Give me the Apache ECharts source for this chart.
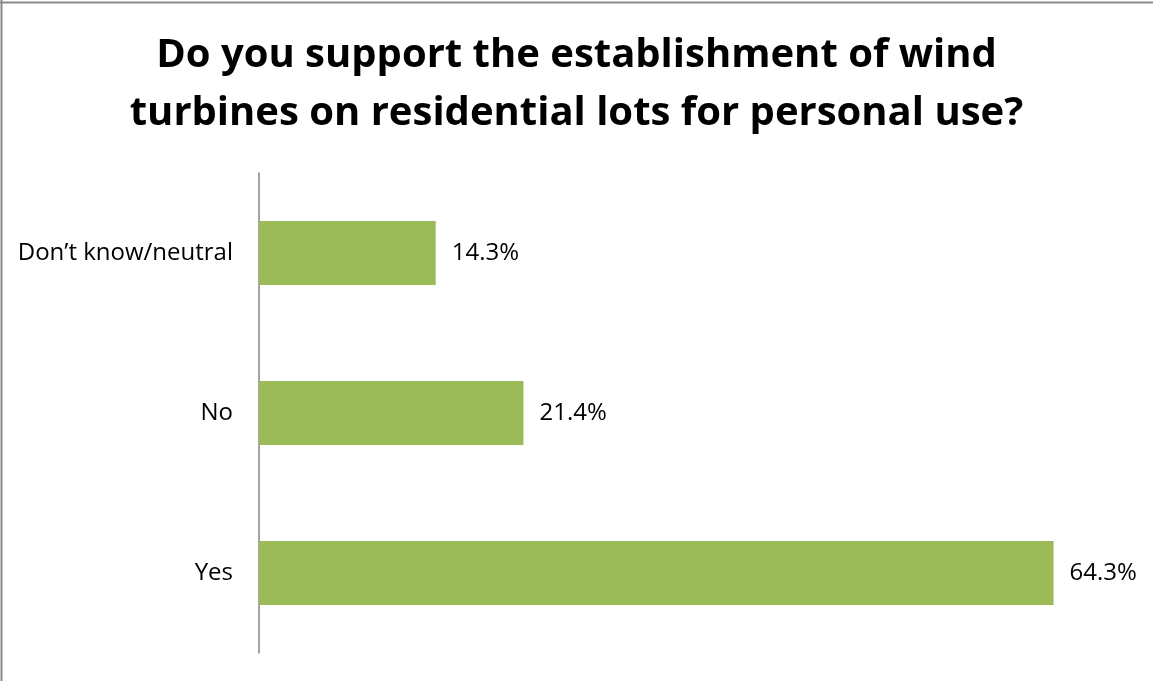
<!DOCTYPE html>
<html>
<head>
<meta charset="utf-8">
<script src="https://cdn.jsdelivr.net/npm/echarts@6/dist/echarts.min.js"></script>
<style>html,body{margin:0;padding:0;background:#fff;}#c{width:1153px;height:681px;}</style>
</head>
<body>
<div id="c"></div>
<script>
var titleText = 'Do you support the establishment of wind\nturbines on residential lots for personal use?';
var categories = ['Yes', 'No', 'Don\u2019t know/neutral'];
var values = [64.3, 21.4, 14.3];

var chart = echarts.init(document.getElementById('c'), null, {renderer: 'canvas'});
chart.setOption({
  backgroundColor: '#ffffff',
  animation: false,
  title: {
    text: titleText,
    left: 'center',
    top: 22,
    textStyle: {
      fontFamily: 'Open Sans',
      fontWeight: 'bold',
      fontSize: 40,
      lineHeight: 58,
      color: '#000000'
    }
  },
  graphic: [
    {type: 'line', shape: {x1: 1.5, y1: 0, x2: 1.5, y2: 681}, style: {stroke: '#8a8a8a', lineWidth: 2}},
    {type: 'line', shape: {x1: 0, y1: 2.5, x2: 1153, y2: 2.5}, style: {stroke: '#8a8a8a', lineWidth: 2}}
  ],
  grid: {left: 259, top: 173, width: 865, height: 480, containLabel: false},
  xAxis: {
    type: 'value', min: 0, max: 70, show: false
  },
  yAxis: {
    type: 'category',
    data: categories,
    axisLine: {show: true, lineStyle: {color: '#868686', width: 1.5}},
    axisTick: {show: false},
    axisLabel: {
      margin: 26,
      fontFamily: 'Open Sans',
      fontSize: 24,
      color: '#000000'
    }
  },
  series: [{
    type: 'bar',
    data: values,
    barWidth: 64,
    itemStyle: {color: '#9BBB59'},
    label: {
      show: true,
      position: 'right',
      distance: 16,
      fontFamily: 'Open Sans',
      fontSize: 24,
      color: '#000000',
      formatter: function (p) { return p.value.toFixed(1) + '%'; }
    }
  }]
});
</script>
</body>
</html>
